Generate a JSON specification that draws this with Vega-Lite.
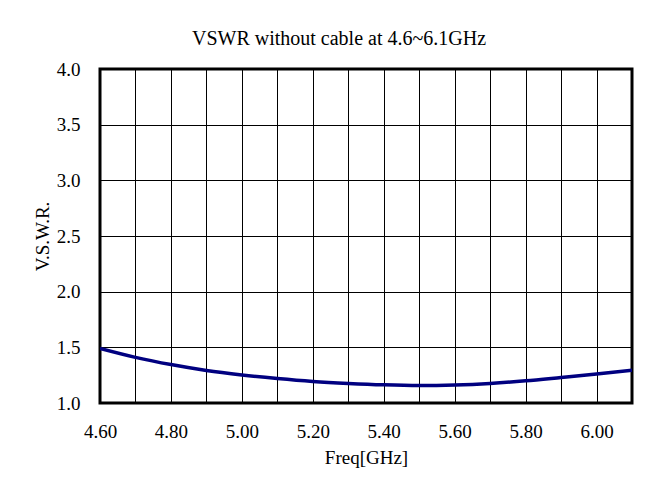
{
  "$schema": "https://vega.github.io/schema/vega-lite/v6.json",
  "autosize": {"type": "none"},
  "padding": {"left": 100, "top": 69, "right": 35, "bottom": 85},
  "width": 532,
  "height": 334,
  "background": "white",
  "title": {
    "text": "VSWR without cable at 4.6~6.1GHz",
    "font": "Liberation Serif",
    "fontSize": 20,
    "fontWeight": "normal",
    "color": "black",
    "offset": 11,
    "dx": -27
  },
  "config": {
    "view": {"stroke": "black", "strokeWidth": 3},
    "axis": {
      "labelFont": "Liberation Serif",
      "titleFont": "Liberation Serif",
      "labelColor": "black",
      "titleColor": "black",
      "labelFontSize": 19,
      "titleFontSize": 19,
      "titleFontWeight": "normal",
      "domain": false,
      "ticks": false,
      "grid": true,
      "gridColor": "black",
      "gridWidth": 1,
      "gridOpacity": 1
    }
  },
  "data": {
    "values": [
      {"freq": 4.6, "vswr": 1.49},
      {"freq": 4.7, "vswr": 1.41},
      {"freq": 4.8, "vswr": 1.345},
      {"freq": 4.9, "vswr": 1.292},
      {"freq": 5.0, "vswr": 1.252},
      {"freq": 5.1, "vswr": 1.22},
      {"freq": 5.2, "vswr": 1.194},
      {"freq": 5.3, "vswr": 1.176},
      {"freq": 5.4, "vswr": 1.163},
      {"freq": 5.5, "vswr": 1.157},
      {"freq": 5.6, "vswr": 1.162},
      {"freq": 5.7, "vswr": 1.176},
      {"freq": 5.8, "vswr": 1.199},
      {"freq": 5.9, "vswr": 1.229},
      {"freq": 6.0, "vswr": 1.26},
      {"freq": 6.1, "vswr": 1.295}
    ]
  },
  "mark": {"type": "line", "color": "#000080", "strokeWidth": 3.5, "interpolate": "monotone", "clip": true},
  "encoding": {
    "x": {
      "field": "freq",
      "type": "quantitative",
      "scale": {"domain": [4.6, 6.1], "nice": false, "zero": false},
      "axis": {
        "title": "Freq[GHz]",
        "values": [4.6, 4.7, 4.8, 4.9, 5.0, 5.1, 5.2, 5.3, 5.4, 5.5, 5.6, 5.7, 5.8, 5.9, 6.0, 6.1],
        "labelExpr": "round(datum.value*10) % 2 == 0 ? format(datum.value, '.2f') : ''",
        "labelPadding": 19,
        "titlePadding": 7,
        "labelFlush": false,
        "labelOverlap": false
      }
    },
    "y": {
      "field": "vswr",
      "type": "quantitative",
      "scale": {"domain": [1, 4], "nice": false, "zero": false},
      "axis": {
        "title": "V.S.W.R.",
        "values": [1, 1.5, 2, 2.5, 3, 3.5, 4],
        "format": ".1f",
        "labelPadding": 20,
        "titlePadding": 4,
        "labelFlush": false,
        "labelOverlap": false
      }
    }
  }
}
